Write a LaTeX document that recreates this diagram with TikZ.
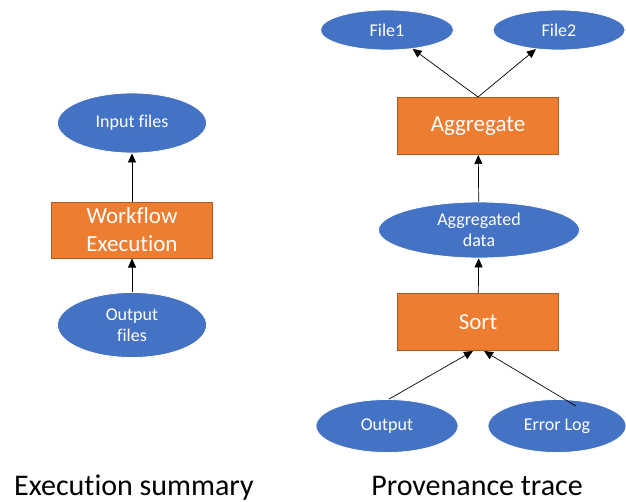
\documentclass[tikz,border=0pt]{standalone}
\usepackage{fontspec}
\setmainfont{Carlito}[Ligatures=NoCommon]
\usetikzlibrary{shapes.geometric, arrows.meta, positioning}

\definecolor{dotblue}{HTML}{4472C4}
\definecolor{boxorange}{HTML}{ED7D31}
\definecolor{boxedge}{HTML}{AE5A21}

\begin{document}
\begin{tikzpicture}[
    x=1pt, y=-1pt,
    every node/.style = {font=\fontsize{18}{21}\selectfont, text=white},
    artifact/.style  = {ellipse, draw=white, line width=0.8pt, fill=dotblue,
                        inner sep=0pt, align=center},
    process/.style   = {rectangle, draw=boxedge, line width=1pt, fill=boxorange,
                        minimum width=161pt, minimum height=56pt, align=center,
                        font=\fontsize{23}{28}\selectfont},
    caption/.style   = {text=black, anchor=base, font=\fontsize{30}{36}\selectfont},
    solidarrow/.style = {-{Triangle[length=9pt,width=8pt]}, line width=0.7pt}
  ]
  \useasboundingbox (0,0) rectangle (626,501);

  % execution summary (left)
  \node[artifact, minimum width=149pt, minimum height=60pt] (inputs) at (132,123) {Input files};
  \node[process] (workflow) at (132,230) {Workflow\\Execution};
  \node[artifact, minimum width=149pt, minimum height=65pt] (outputs) at (132,325) {Output\\files};
  \node[caption] (summary) at (134,495) {Execution summary};

  % provenance trace (right)
  \node[artifact, minimum width=133pt, minimum height=40pt] (file1) at (387,30) {File1};
  \node[artifact, minimum width=132pt, minimum height=40pt] (file2) at (559,30) {File2};
  \node[process, minimum height=57pt] (aggregate) at (478,126) {Aggregate};
  \node[artifact, minimum width=201pt, minimum height=56pt] (aggdata) at (479,230) {Aggregated\\data};
  \node[process, minimum height=57pt] (sort) at (478,322) {Sort};
  \node[artifact, minimum width=142pt, minimum height=53pt] (output) at (387,426) {Output};
  \node[artifact, minimum width=138pt, minimum height=53pt] (errlog) at (557,426) {Error Log};
  \node[caption] (trace) at (477,495) {Provenance trace};

  % arrows
  \draw[solidarrow] (workflow) -- (inputs);
  \draw[solidarrow] (outputs) -- (workflow);
  \draw[solidarrow] (aggregate.north) -- (file1);
  \draw[solidarrow] (aggregate.north) -- (file2);
  \draw[solidarrow] (aggdata) -- (aggregate);
  \draw[solidarrow] (sort) -- (aggdata);
  \draw[solidarrow] ([xshift=2pt]output.north) -- ([xshift=-5pt]sort.south);
  \draw[solidarrow] ([shift={(19,7)}]errlog.north) -- ([xshift=6pt]sort.south);

\end{tikzpicture}
\end{document}
